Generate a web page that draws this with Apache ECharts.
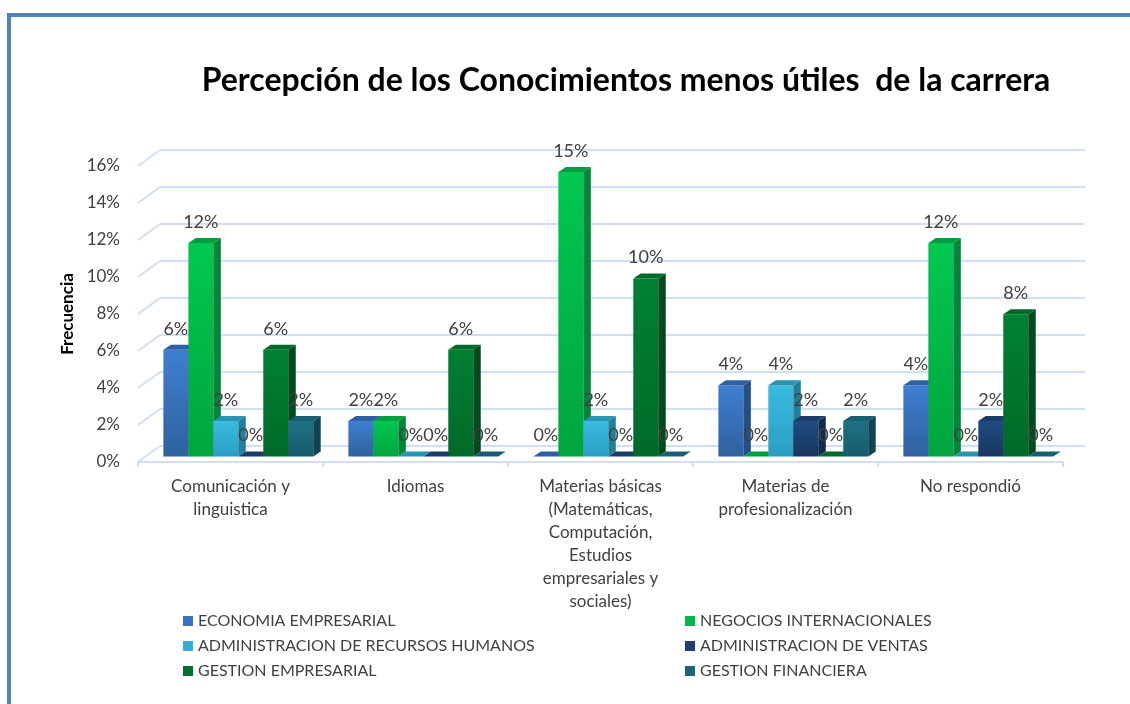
<!DOCTYPE html>
<html>
<head>
<meta charset="utf-8">
<title>Percepción de los Conocimientos menos útiles de la carrera</title>
<script src="https://cdn.jsdelivr.net/npm/echarts@6/dist/echarts.min.js"></script>
<style>
    html, body { margin: 0; padding: 0; background: #fff; }
    #main { width: 1130px; height: 704px; }
</style>
</head>
<body>
<div id="main"></div>
<script>
// Categories (x axis)
var categories = [
    'Comunicación y\nlinguistica',
    'Idiomas',
    'Materias básicas\n(Matemáticas,\nComputación,\nEstudios\nempresariales y\nsociales)',
    'Materias de\nprofesionalización',
    'No respondió'
];
// Series names
var seriesNames = [
    'ECONOMIA EMPRESARIAL',
    'NEGOCIOS INTERNACIONALES',
    'ADMINISTRACION DE RECURSOS HUMANOS',
    'ADMINISTRACION DE VENTAS',
    'GESTION EMPRESARIAL',
    'GESTION FINANCIERA'
];
// Values in percent
var economiaEmpresarial = [5.77, 1.92, 0, 3.85, 3.85];
var negociosInternacionales = [11.54, 1.92, 15.38, 0, 11.54];
var adminRecursosHumanos = [1.92, 0, 1.92, 3.85, 0];
var adminVentas = [0, 0, 0, 1.92, 1.92];
var gestionEmpresarial = [5.77, 5.77, 9.62, 0, 7.69];
var gestionFinanciera = [1.92, 0, 0, 1.92, 0];
// y axis ticks
var yTicks = [0, 2, 4, 6, 8, 10, 12, 14, 16];

var seriesValues = [economiaEmpresarial, negociosInternacionales, adminRecursosHumanos,
    adminVentas, gestionEmpresarial, gestionFinanciera];

// front (gradient top/bottom), side, top face colours
var palette = [
    { legend: '#3a72c0', front: ['#3f7fd0', '#2f619f'], side: '#24508a', top: '#2d60a5' },
    { legend: '#00b84a', front: ['#00c850', '#00a53f'], side: '#00863a', top: '#009e3f' },
    { legend: '#33afd3', front: ['#3abbdf', '#2a9ec2'], side: '#217f9a', top: '#2894b3' },
    { legend: '#1f3f70', front: ['#204b82', '#17365f'], side: '#132a4c', top: '#1b3c6a' },
    { legend: '#00702d', front: ['#008034', '#006a28'], side: '#004a1c', top: '#006a29' },
    { legend: '#1b6577', front: ['#1e7085', '#175b6b'], side: '#114452', top: '#185e70' }
];

var depthX = 7.5, depthY = 5;   // bar depth
var shiftX = 7.8, shiftY = -5.5; // bar plane vs floor front
var wallX = 22, wallY = 16;     // back wall vs floor front

var chartDom = document.getElementById('main');
var myChart = echarts.init(chartDom);

function renderBar(params, api) {
    var si = params.seriesIndex;
    var c = palette[si];
    var val = api.value(1);
    var base = api.coord([api.value(0), 0]);
    var top = api.coord([api.value(0), val]);
    var w = api.size([1, 0])[0] * 0.135;
    var x0 = base[0] + shiftX + (si - 3) * w;
    var x1 = x0 + w;
    var yb = base[1] + shiftY;
    var yt = top[1] + shiftY;
    var children = [];
    if (val > 0) {
        children.push({
            type: 'rect',
            shape: { x: x0, y: yt, width: w, height: yb - yt },
            style: {
                fill: new echarts.graphic.LinearGradient(0, 0, 0, 1, [
                    { offset: 0, color: c.front[0] },
                    { offset: 1, color: c.front[1] }
                ])
            }
        });
        children.push({
            type: 'polygon',
            shape: { points: [[x1, yt], [x1 + depthX, yt - depthY], [x1 + depthX, yb - depthY], [x1, yb]] },
            style: { fill: c.side }
        });
    }
    children.push({
        type: 'polygon',
        shape: { points: [[x0, yt], [x0 + depthX, yt - depthY], [x1 + depthX, yt - depthY], [x1, yt]] },
        style: { fill: c.top }
    });
    children.push({
        type: 'text',
        z2: 100,
        style: {
            text: Math.round(val) + '%',
            x: (x0 + x1) / 2,
            y: yt - 21,
            align: 'center',
            verticalAlign: 'middle',
            fill: '#404040',
            font: '18px Lato'
        }
    });
    return { type: 'group', children: children };
}

function renderWallEdge(params, api) {
    var p = api.coord([0, api.value(0)]);
    var x = params.coordSys.x;
    return {
        type: 'line',
        shape: { x1: x, y1: p[1], x2: x + wallX, y2: p[1] - wallY },
        style: { stroke: '#d3dff1', lineWidth: 2 }
    };
}

var series = seriesNames.map(function (name, i) {
    return {
        name: name,
        type: 'custom',
        xAxisIndex: 0,
        yAxisIndex: 0,
        itemStyle: { color: palette[i].legend },
        renderItem: renderBar,
        data: seriesValues[i].map(function (v, k) { return [k, v]; })
    };
});
series.push({
    type: 'custom',
    z: 1,
    xAxisIndex: 0,
    yAxisIndex: 0,
    silent: true,
    renderItem: renderWallEdge,
    data: yTicks.map(function (v) { return [v]; })
});

var legendText = { fontSize: 16, lineHeight: 15, color: '#404040', fontFamily: 'Lato' };

var option = {
    animation: false,
    textStyle: { fontFamily: 'Lato' },
    title: {
        text: 'Percepción de los Conocimientos menos útiles  de la carrera',
        left: 621,
        top: 60,
        textAlign: 'center',
        textStyle: { fontFamily: 'Lato', fontWeight: 'bold', fontSize: 32, color: '#000' }
    },
    graphic: [{
        type: 'rect',
        shape: { x: 9, y: 15, width: 1300, height: 900 },
        style: { fill: 'none', stroke: '#4f81bd', lineWidth: 4 }
    }],
    legend: [{
        orient: 'vertical',
        left: 178,
        top: 608,
        itemWidth: 10,
        itemHeight: 10,
        itemGap: 9,
        icon: 'rect',
        data: [seriesNames[0], seriesNames[2], seriesNames[4]],
        textStyle: legendText
    }, {
        orient: 'vertical',
        left: 680,
        top: 608,
        itemWidth: 10,
        itemHeight: 10,
        itemGap: 9,
        icon: 'rect',
        data: [seriesNames[1], seriesNames[3], seriesNames[5]],
        textStyle: legendText
    }],
    grid: [
        // floor front / bars
        { left: 138, top: 166, width: 925, height: 296 },
        // back wall
        { left: 160, top: 150, width: 925, height: 296 }
    ],
    xAxis: [{
        gridIndex: 0,
        type: 'category',
        data: categories,
        axisLine: { lineStyle: { color: '#d3dff1', width: 2 } },
        axisTick: { show: true, length: 5, lineStyle: { color: '#d3dff1', width: 2 } },
        axisLabel: { fontSize: 17, lineHeight: 23, color: '#404040', margin: 13, interval: 0 }
    }, {
        gridIndex: 1,
        type: 'category',
        data: categories,
        show: false
    }],
    yAxis: [{
        gridIndex: 0,
        type: 'value',
        min: 0,
        max: 16,
        interval: 2,
        name: 'Frecuencia',
        nameLocation: 'middle',
        nameRotate: 90,
        nameGap: 62,
        nameTextStyle: { fontSize: 17, fontWeight: 'bold', color: '#000' },
        axisLine: { show: false },
        axisTick: { show: false },
        splitLine: { show: false },
        axisLabel: { fontSize: 17, color: '#404040', margin: 18, formatter: '{value}%' }
    }, {
        gridIndex: 1,
        type: 'value',
        min: 0,
        max: 16,
        interval: 2,
        axisLine: { show: false },
        axisTick: { show: false },
        axisLabel: { show: false },
        splitLine: { show: true, lineStyle: { color: '#d3dff1', width: 2 } }
    }],
    series: series
};

myChart.setOption(option);
</script>
</body>
</html>
